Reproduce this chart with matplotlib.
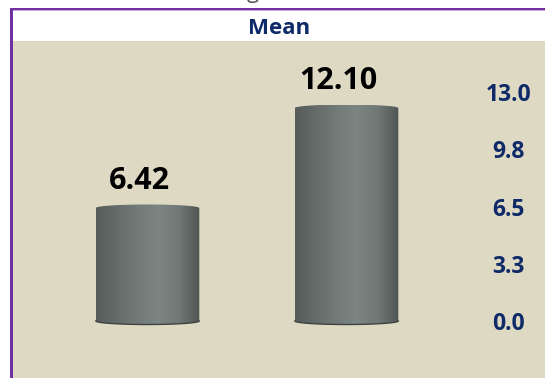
import numpy as np
import matplotlib
matplotlib.use("Agg")
import matplotlib.pyplot as plt
from matplotlib.colors import LinearSegmentedColormap
from matplotlib.patches import PathPatch, Rectangle
from matplotlib.path import Path

plt.rcParams['font.family'] = ['Open Sans', 'DejaVu Sans']

# 数据
groups = ["A", "B"]
means = [6.42, 12.10]
tick_values = [0.0, 3.25, 6.5, 9.75, 13.0]
tick_labels = ["0.0", "3.3", "6.5", "9.8", "13.0"]
chart_title = "Mean"

BAR_WIDTH = 0.52
CAP = 0.2           # 圆柱顶/底弧线的高度（数据单位）
NAVY = "#0f2a68"
PURPLE = "#7030a0"
BG = "#ddd9c3"

# 圆柱侧面的明暗渐变
cyl_cmap = LinearSegmentedColormap.from_list(
    "cyl", ["#555c5a", "#646b69", "#737b78", "#7c8582", "#707876", "#4f5553"])


def draw_cylinder(ax, xc, height):
    x0, x1 = xc - BAR_WIDTH / 2, xc + BAR_WIDTH / 2
    t_top = np.linspace(0, np.pi, 60)
    t_bot = np.linspace(np.pi, 2 * np.pi, 60)
    top = np.column_stack([xc + BAR_WIDTH / 2 * np.cos(t_top),
                           height + CAP * np.sin(t_top)])
    bot = np.column_stack([xc + BAR_WIDTH / 2 * np.cos(t_bot),
                           CAP * np.sin(t_bot)])
    verts = np.vstack([top, bot, top[:1]])
    codes = [Path.MOVETO] + [Path.LINETO] * (len(verts) - 2) + [Path.CLOSEPOLY]
    clip = PathPatch(Path(verts, codes), facecolor="none", edgecolor="none")
    ax.add_patch(clip)
    grad = np.linspace(0, 1, 256).reshape(1, -1)
    im = ax.imshow(grad, cmap=cyl_cmap, aspect="auto", zorder=2,
                   extent=[x0, x1, -CAP, height + CAP], interpolation="bilinear")
    im.set_clip_path(clip)
    # 底部的暗边
    ax.plot(bot[:, 0], bot[:, 1], color="#3f4442", lw=1.0, zorder=3)


fig = plt.figure(figsize=(5.45, 3.78), dpi=100, facecolor="white")
W, H = 545, 378

ax = fig.add_axes([13 / W, 0, 532 / W, (H - 41) / H])
ax.set_facecolor(BG)
ax.set_xlim(-0.676, 1.997)
ax.set_ylim(-3.24, 15.91)

x = np.arange(len(groups))
for xi, v in zip(x, means):
    draw_cylinder(ax, xi, v)
    ax.annotate(f"{v:.2f}", (xi, v), xytext=(-6, 14), textcoords="offset points",
                ha="center", va="baseline", fontsize=22, fontweight="bold",
                color="black")

ax.set_xticks([])
ax.set_yticks(tick_values, tick_labels)
ax.yaxis.tick_right()
ax.tick_params(axis="y", length=0, pad=-26.6, labelsize=16.5, labelcolor=NAVY)
for lab in ax.get_yticklabels():
    lab.set_ha("center")
    lab.set_fontweight("bold")
for s in ax.spines.values():
    s.set_visible(False)

# 标题
fig.text((13 + 532 / 2) / W, 1 - 28 / H, chart_title, ha="center", va="center",
         fontsize=16, fontweight="bold", color=NAVY)

# 上方被截掉的文字
fig.text(253 / W, 1 + 2 / H, "g", ha="center", va="baseline", fontsize=16,
         color="#555555")

# 紫色边框
fig.add_artist(Rectangle((10 / W, 0), 3 / W, 1 - 8 / H, transform=fig.transFigure,
                         facecolor=PURPLE, edgecolor="none"))
fig.add_artist(Rectangle((10 / W, 1 - 10 / H), 1, 2 / H, transform=fig.transFigure,
                         facecolor=PURPLE, edgecolor="none"))
fig.add_artist(Rectangle((13 / W, 1 - 11 / H), 1, 1 / H, transform=fig.transFigure,
                         facecolor="#c9a9df", edgecolor="none"))

fig.savefig("out.png", dpi=100, facecolor="white")
